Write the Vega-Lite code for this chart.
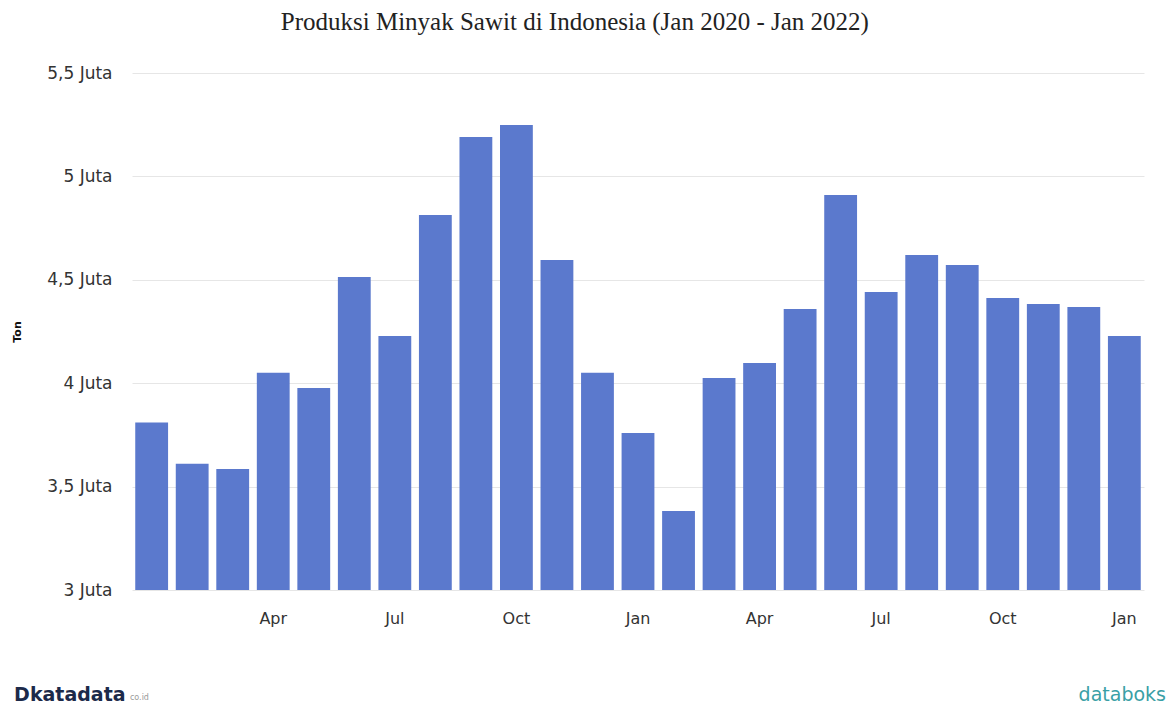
{
  "$schema": "https://vega.github.io/schema/vega-lite/v6.json",
  "background": "white",
  "padding": {"left": 11, "top": 10, "right": 4, "bottom": 4},
  "config": {"view": {"stroke": null}, "font": "DejaVu Sans", "concat": {"spacing": 54}},
  "title": {"text": "Produksi Minyak Sawit di Indonesia (Jan 2020 - Jan 2022)", "font": "Liberation Serif", "fontSize": 25, "fontWeight": "normal", "color": "#222222", "anchor": "middle", "offset": 29, "dx": -14},
  "vconcat": [
    {
      "width": 1012,
      "height": 517,
      "data": {"values": [
        {"bulan": "2020-01", "produksi": 3810000},
        {"bulan": "2020-02", "produksi": 3610000},
        {"bulan": "2020-03", "produksi": 3585000},
        {"bulan": "2020-04", "produksi": 4050000},
        {"bulan": "2020-05", "produksi": 3977000},
        {"bulan": "2020-06", "produksi": 4513000},
        {"bulan": "2020-07", "produksi": 4228000},
        {"bulan": "2020-08", "produksi": 4813000},
        {"bulan": "2020-09", "produksi": 5190000},
        {"bulan": "2020-10", "produksi": 5249000},
        {"bulan": "2020-11", "produksi": 4596000},
        {"bulan": "2020-12", "produksi": 4050000},
        {"bulan": "2021-01", "produksi": 3759000},
        {"bulan": "2021-02", "produksi": 3382000},
        {"bulan": "2021-03", "produksi": 4025000},
        {"bulan": "2021-04", "produksi": 4098000},
        {"bulan": "2021-05", "produksi": 4359000},
        {"bulan": "2021-06", "produksi": 4910000},
        {"bulan": "2021-07", "produksi": 4441000},
        {"bulan": "2021-08", "produksi": 4620000},
        {"bulan": "2021-09", "produksi": 4572000},
        {"bulan": "2021-10", "produksi": 4412000},
        {"bulan": "2021-11", "produksi": 4383000},
        {"bulan": "2021-12", "produksi": 4368000},
        {"bulan": "2022-01", "produksi": 4228000}
      ]},
      "mark": {"type": "bar", "clip": true, "color": "#5b79cd"},
      "encoding": {
        "x": {
          "field": "bulan", "type": "ordinal", "sort": null,
          "scale": {"paddingInner": 0.19, "paddingOuter": 0.08},
          "axis": {
            "title": null, "domain": false, "ticks": false, "labelAngle": 0,
            "labelPadding": 20, "labelFontSize": 16, "labelColor": "#333333",
            "labelExpr": "slice(datum.value,5)=='04' ? 'Apr' : slice(datum.value,5)=='07' ? 'Jul' : slice(datum.value,5)=='10' ? 'Oct' : (slice(datum.value,5)=='01' && datum.value!='2020-01') ? 'Jan' : ''"
          }
        },
        "y": {
          "field": "produksi", "type": "quantitative",
          "scale": {"domain": [3000000, 5500000], "zero": false, "nice": false},
          "axis": {
            "title": "Ton", "titleFontSize": 11, "titleFontWeight": "bold", "titleColor": "#111111", "titlePadding": 24,
            "values": [3000000, 3500000, 4000000, 4500000, 5000000, 5500000],
            "domain": false, "ticks": false, "labelPadding": 20, "labelFontSize": 17, "labelColor": "#333333",
            "gridColor": "#e6e6e6",
            "labelExpr": "replace(format(datum.value/1000000, '.1~f'), '.', ',') + ' Juta'"
          }
        }
      }
    },
    {
      "width": 1034,
      "height": 30,
      "data": {"values": [{"logo": "Dkatadata", "domain": "co.id", "situs": "databoks"}]},
      "layer": [
        {
          "mark": {"type": "text", "align": "left", "baseline": "middle", "fontWeight": "bold", "fontSize": 19, "color": "#1c2a4a"},
          "encoding": {
            "x": {"datum": -0.114, "type": "quantitative", "scale": {"domain": [0, 1]}, "axis": null},
            "y": {"datum": 0.5, "type": "quantitative", "scale": {"domain": [0, 1]}, "axis": null},
            "text": {"field": "logo"}
          }
        },
        {
          "mark": {"type": "text", "align": "left", "baseline": "middle", "fontSize": 8, "color": "#9a9a9a"},
          "encoding": {
            "x": {"datum": -0.002, "type": "quantitative", "scale": {"domain": [0, 1]}, "axis": null},
            "y": {"datum": 0.4, "type": "quantitative", "scale": {"domain": [0, 1]}, "axis": null},
            "text": {"field": "domain"}
          }
        },
        {
          "mark": {"type": "text", "align": "right", "baseline": "middle", "fontSize": 19, "color": "#3a9fa6"},
          "encoding": {
            "x": {"datum": 1, "type": "quantitative", "scale": {"domain": [0, 1]}, "axis": null},
            "y": {"datum": 0.5, "type": "quantitative", "scale": {"domain": [0, 1]}, "axis": null},
            "text": {"field": "situs"}
          }
        }
      ]
    }
  ]
}
